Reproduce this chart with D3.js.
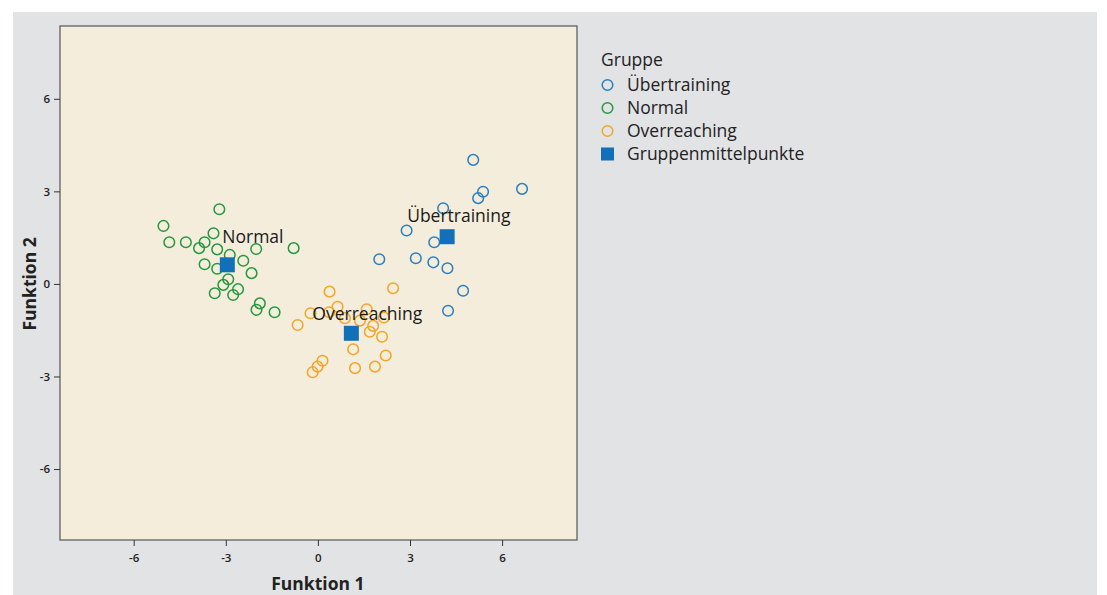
<!DOCTYPE html>
<html>
<head>
<meta charset="utf-8">
<script src="https://cdn.jsdelivr.net/npm/d3@7"></script>
<style>
body{margin:0;background:#fff;}
text{font-family:"Open Sans","Noto Sans",sans-serif;}
</style>
</head>
<body>
<svg id="chart" width="1107" height="595"></svg>
<script>
// Funktion 1 / Funktion 2 scores per group
var uebertrainingX = [5.06, 6.65, 5.38, 5.22, 4.08, 2.89, 3.79, 2.00, 3.19, 3.76, 4.22, 4.73, 4.24];
var uebertrainingY = [4.02, 3.08, 2.99, 2.78, 2.45, 1.73, 1.35, 0.80, 0.83, 0.70, 0.51, -0.22, -0.87];

var normalX = [-3.21, -5.03, -3.40, -4.84, -4.30, -3.69, -3.87, -3.28, -2.87, -2.01, -0.79, -3.69,
	-3.28, -2.43, -2.16, -2.92, -3.08, -2.60, -3.36, -2.76, -1.89, -2.00, -1.41];
var normalY = [2.42, 1.88, 1.64, 1.35, 1.35, 1.35, 1.16, 1.12, 0.94, 1.13, 1.16, 0.64,
	0.49, 0.75, 0.35, 0.15, -0.03, -0.17, -0.30, -0.36, -0.63, -0.84, -0.92];

var overreachingX = [0.38, 2.45, -0.24, 0.64, 0.37, 0.88, 1.59, 1.37, 1.80, 2.15, 1.69, -0.66,
	2.09, 1.15, 2.21, 0.15, -0.01, -0.17, 1.21, 1.86];
var overreachingY = [-0.25, -0.14, -0.95, -0.74, -0.92, -1.11, -0.82, -1.19, -1.36, -1.09, -1.55, -1.33,
	-1.71, -2.12, -2.32, -2.49, -2.68, -2.86, -2.73, -2.68];

var groupNames = ["Übertraining", "Normal", "Overreaching"];
var centroidX = [4.21, -2.95, 1.09];
var centroidY = [1.53, 0.62, -1.60];

var tickValues = [-6, -3, 0, 3, 6];
var legendTitle = "Gruppe";
var legendCentroid = "Gruppenmittelpunkte";

var colors = {"Übertraining": "#2a7fc0", "Normal": "#25983f", "Overreaching": "#f2a526"};
var centroidColor = "#1170b8";

var svg = d3.select("#chart");

svg.append("rect")
	.attr("x", 13).attr("y", 12)
	.attr("width", 1084).attr("height", 583)
	.attr("fill", "#e2e3e5");

var plotLeft = 60, plotTop = 26, plotW = 517, plotH = 514;

var xScale = d3.scaleLinear().domain([-8.4, 8.44]).range([plotLeft, plotLeft + plotW]);
var yScale = d3.scaleLinear().domain([-8.3, 8.36]).range([plotTop + plotH, plotTop]);

svg.append("rect")
	.attr("x", plotLeft).attr("y", plotTop)
	.attr("width", plotW).attr("height", plotH)
	.attr("fill", "#f4eddb")
	.attr("stroke", "#555").attr("stroke-width", 1.2);

var xAxis = svg.append("g")
	.attr("transform", "translate(0," + (plotTop + plotH) + ")")
	.call(d3.axisBottom(xScale).tickValues(tickValues).tickSize(6).tickPadding(8));
var yAxis = svg.append("g")
	.attr("transform", "translate(" + plotLeft + ",0)")
	.call(d3.axisLeft(yScale).tickValues(tickValues).tickSize(6).tickPadding(4));

[xAxis, yAxis].forEach(function(ax)
{
	ax.select(".domain").remove();
	ax.selectAll("line").attr("stroke", "#333");
	ax.selectAll("text")
		.attr("fill", "#222")
		.style("font-size", "11.5px")
		.style("font-weight", "600")
		.style("font-family", "'Open Sans',sans-serif")
		.text(function(d){ return d < 0 ? "-" + Math.abs(d) : d; });
});

svg.append("text")
	.attr("x", xScale(0)).attr("y", 590)
	.attr("text-anchor", "middle")
	.style("font-size", "17.5px").style("font-weight", "700")
	.attr("fill", "#222")
	.text("Funktion 1");

svg.append("text")
	.attr("transform", "translate(36," + yScale(0) + ") rotate(-90)")
	.attr("text-anchor", "middle")
	.style("font-size", "17.5px").style("font-weight", "700")
	.attr("fill", "#222")
	.text("Funktion 2");

var seriesX = [uebertrainingX, normalX, overreachingX];
var seriesY = [uebertrainingY, normalY, overreachingY];

var pointGroup = svg.append("g").attr("class", "points");
for(var i = 0; i < groupNames.length; i++)
{
	var pts = seriesX[i].map(function(x, j){ return [x, seriesY[i][j]]; });
	pointGroup.append("g")
		.selectAll("circle")
		.data(pts).enter()
		.append("circle")
		.attr("cx", function(d){ return xScale(d[0]); })
		.attr("cy", function(d){ return yScale(d[1]); })
		.attr("r", 5.3)
		.attr("fill", "none")
		.attr("stroke", colors[groupNames[i]])
		.attr("stroke-width", 1.5);
}

// centroid labels sit a bit above the squares
var labelOffsets = {"Übertraining": [-40, -15], "Normal": [-5, -22], "Overreaching": [-39, -13]};

var centroids = groupNames.map(function(n, i){ return {name: n, x: centroidX[i], y: centroidY[i]}; });
var sq = 15;
svg.append("g").selectAll("rect")
	.data(centroids).enter()
	.append("rect")
	.attr("x", function(d){ return xScale(d.x) - sq / 2; })
	.attr("y", function(d){ return yScale(d.y) - sq / 2; })
	.attr("width", sq).attr("height", sq)
	.attr("fill", centroidColor);

svg.append("g").selectAll("text")
	.data(centroids).enter()
	.append("text")
	.attr("x", function(d){ return xScale(d.x) + labelOffsets[d.name][0]; })
	.attr("y", function(d){ return yScale(d.y) + labelOffsets[d.name][1]; })
	.style("font-size", "17.5px")
	.attr("fill", "#1a1a1a")
	.text(function(d){ return d.name; });

// legend
var legend = svg.append("g").attr("transform", "translate(601,0)");
legend.append("text")
	.attr("x", 0).attr("y", 66)
	.style("font-size", "17.5px").attr("fill", "#222")
	.text(legendTitle);

var legendItems = legend.selectAll("g.item")
	.data(groupNames.concat([legendCentroid])).enter()
	.append("g")
	.attr("class", "item")
	.attr("transform", function(d, i){ return "translate(0," + (85 + i * 23) + ")"; });

legendItems.each(function(d)
{
	var g = d3.select(this);
	if(d === legendCentroid)
	{
		g.append("rect")
			.attr("x", 0).attr("y", -6.5)
			.attr("width", 13).attr("height", 13)
			.attr("fill", centroidColor);
	}
	else
	{
		g.append("circle")
			.attr("cx", 6.5).attr("cy", 0).attr("r", 5.3)
			.attr("fill", "none")
			.attr("stroke", colors[d])
			.attr("stroke-width", 1.5);
	}
	g.append("text")
		.attr("x", 26).attr("y", 6)
		.style("font-size", "17.5px").attr("fill", "#222")
		.text(d);
});
</script>
</body>
</html>
